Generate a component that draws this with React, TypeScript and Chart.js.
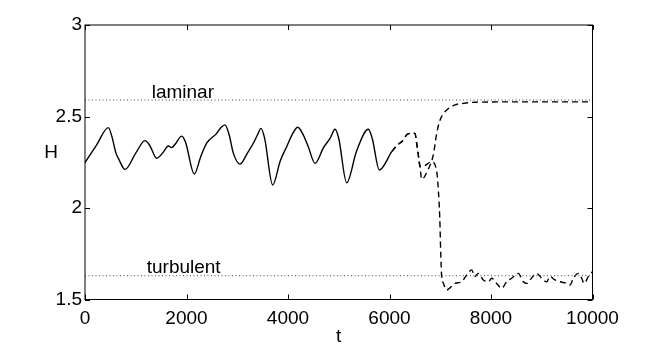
import React, { useEffect, useRef } from "react";
import { Chart, registerables } from "chart.js";

Chart.register(...registerables);

// Solid segment (t, H)
const solidT = [0, 230, 460, 530, 610, 660, 788, 1000, 1182, 1280, 1412, 1530, 1642, 1707, 1780, 1905, 1980, 2154, 2280, 2397, 2594, 2680, 2759, 2840, 2923, 3054, 3200, 3317, 3400, 3468, 3540, 3698, 3850, 3974, 4100, 4191, 4300, 4400, 4532, 4700, 4828, 4926, 5000, 5156, 5350, 5583, 5660, 5800, 6043];
const solidH = [2.248, 2.345, 2.439, 2.39, 2.30, 2.27, 2.211, 2.30, 2.368, 2.34, 2.272, 2.30, 2.339, 2.33, 2.35, 2.393, 2.36, 2.186, 2.28, 2.354, 2.408, 2.44, 2.454, 2.40, 2.30, 2.240, 2.30, 2.354, 2.40, 2.435, 2.38, 2.126, 2.26, 2.335, 2.41, 2.441, 2.40, 2.335, 2.244, 2.33, 2.38, 2.43, 2.38, 2.138, 2.31, 2.43, 2.38, 2.208, 2.308];

// Dashed branch ending laminar
const lamT = [6043, 6141, 6273, 6339, 6437, 6502, 6535, 6568, 6601, 6634, 6760, 6863, 6930, 6995, 7127, 7291, 7454, 7700, 8500, 10000];
const lamH = [2.308, 2.34, 2.372, 2.40, 2.408, 2.408, 2.354, 2.29, 2.226, 2.157, 2.21, 2.29, 2.408, 2.48, 2.535, 2.563, 2.572, 2.578, 2.58, 2.58];

// Dashed branch ending turbulent
const turbT = [6043, 6141, 6273, 6339, 6437, 6502, 6535, 6568, 6601, 6686, 6831, 6930, 6962, 6990, 7010, 7028, 7060, 7127, 7291, 7422, 7521, 7619, 7685, 7750, 7849, 7947, 8013, 8112, 8210, 8309, 8407, 8538, 8637, 8703, 8768, 8900, 8998, 9097, 9163, 9261, 9360, 9491, 9557, 9622, 9720, 9787, 9833, 9918, 10000];
const turbH = [2.308, 2.34, 2.372, 2.40, 2.408, 2.408, 2.354, 2.29, 2.226, 2.23, 2.253, 2.20, 2.10, 1.95, 1.75, 1.625, 1.59, 1.552, 1.588, 1.597, 1.634, 1.661, 1.625, 1.643, 1.607, 1.597, 1.616, 1.588, 1.561, 1.597, 1.616, 1.643, 1.597, 1.588, 1.607, 1.643, 1.616, 1.597, 1.625, 1.607, 1.597, 1.588, 1.579, 1.616, 1.643, 1.616, 1.588, 1.625, 1.652];

const laminarLevel = 2.59;
const turbulentLevel = 1.63;
const xTicks = [0, 2000, 4000, 6000, 8000, 10000];
const yTicks = [1.5, 2, 2.5, 3];

const FONT = '"Liberation Sans", Arial, Helvetica, sans-serif';
const FS = 19;

const pts = (xs: number[], ys: number[]) => xs.map((x, i) => ({ x, y: ys[i] }));

export default function App() {
  const ref = useRef<HTMLCanvasElement | null>(null);
  useEffect(() => {
    if (!ref.current) return;
    const decor = {
      id: "decor",
      afterDraw(chart: any) {
        const { ctx, chartArea: a, scales } = chart;
        const xs = scales.x;
        const ys = scales.y;
        ctx.save();
        ctx.strokeStyle = "#000";
        ctx.lineWidth = 1;
        ctx.strokeRect(a.left, a.top, a.right - a.left, a.bottom - a.top);
        ctx.beginPath();
        const L = 5;
        xTicks.forEach((v) => {
          const px = Math.round(xs.getPixelForValue(v)) + 0.5;
          ctx.moveTo(px, a.bottom);
          ctx.lineTo(px, a.bottom - L);
          ctx.moveTo(px, a.top);
          ctx.lineTo(px, a.top + L);
        });
        yTicks.forEach((v) => {
          const py = Math.round(ys.getPixelForValue(v)) + 0.5;
          ctx.moveTo(a.left, py);
          ctx.lineTo(a.left + L, py);
          ctx.moveTo(a.right, py);
          ctx.lineTo(a.right - L, py);
        });
        ctx.stroke();
        ctx.fillStyle = "#000";
        ctx.font = FS + "px " + FONT;
        ctx.textAlign = "left";
        ctx.textBaseline = "alphabetic";
        ctx.fillText("laminar", xs.getPixelForValue(1314), ys.getPixelForValue(laminarLevel) - 2);
        ctx.fillText("turbulent", xs.getPixelForValue(1216), ys.getPixelForValue(turbulentLevel) - 3);
        ctx.textAlign = "center";
        ctx.textBaseline = "middle";
        ctx.fillText("H", a.left - 34, ys.getPixelForValue(2.3));
        ctx.restore();
      },
    };
    const chart = new Chart(ref.current, {
      type: "line",
      data: {
        datasets: [
          {
            data: [{ x: 0, y: laminarLevel }, { x: 10000, y: laminarLevel }],
            borderColor: "#444",
            borderWidth: 1,
            borderDash: [1, 2.5],
            pointRadius: 0,
          },
          {
            data: [{ x: 0, y: turbulentLevel }, { x: 10000, y: turbulentLevel }],
            borderColor: "#444",
            borderWidth: 1,
            borderDash: [1, 2.5],
            pointRadius: 0,
          },
          {
            data: pts(solidT, solidH),
            borderColor: "#000",
            borderWidth: 1.4,
            pointRadius: 0,
            cubicInterpolationMode: "monotone",
          },
          {
            data: pts(lamT, lamH),
            borderColor: "#000",
            borderWidth: 1.4,
            borderDash: [6, 4],
            pointRadius: 0,
            cubicInterpolationMode: "monotone",
          },
          {
            data: pts(turbT, turbH),
            borderColor: "#000",
            borderWidth: 1.4,
            borderDash: [6, 4],
            pointRadius: 0,
            cubicInterpolationMode: "monotone",
          },
        ],
      },
      options: {
        responsive: false,
        animation: false,
        parsing: false as any,
        layout: { padding: { left: 0, top: 25, right: 61.5, bottom: 0 } },
        plugins: { legend: { display: false }, tooltip: { enabled: false } },
        scales: {
          x: {
            type: "linear",
            min: 0,
            max: 10000,
            afterBuildTicks: (s: any) => {
              s.ticks = xTicks.map((v) => ({ value: v }));
            },
            afterFit: (s: any) => {
              s.height = 45.5;
            },
            grid: { display: false, drawTicks: false },
            border: { display: false },
            ticks: { color: "#000", font: { family: FONT, size: FS }, padding: 8, maxRotation: 0, callback: (v: any) => String(v) },
            title: { display: true, text: "t", color: "#000", font: { family: FONT, size: FS }, padding: { top: 0, bottom: -3 } },
          },
          y: {
            type: "linear",
            min: 1.5,
            max: 3,
            afterBuildTicks: (s: any) => {
              s.ticks = yTicks.map((v) => ({ value: v }));
            },
            afterFit: (s: any) => {
              s.width = 85;
            },
            grid: { display: false, drawTicks: false },
            border: { display: false },
            ticks: { color: "#000", font: { family: FONT, size: FS }, padding: 3, callback: (v: any) => String(v) },
          },
        },
      },
      plugins: [decor],
    } as any);
    return () => chart.destroy();
  }, []);
  return (
    <div style={{ position: "absolute", left: 0, top: 0, width: 654, height: 345, background: "#fff" }}>
      <canvas ref={ref} width={654} height={345} />
    </div>
  );
}
